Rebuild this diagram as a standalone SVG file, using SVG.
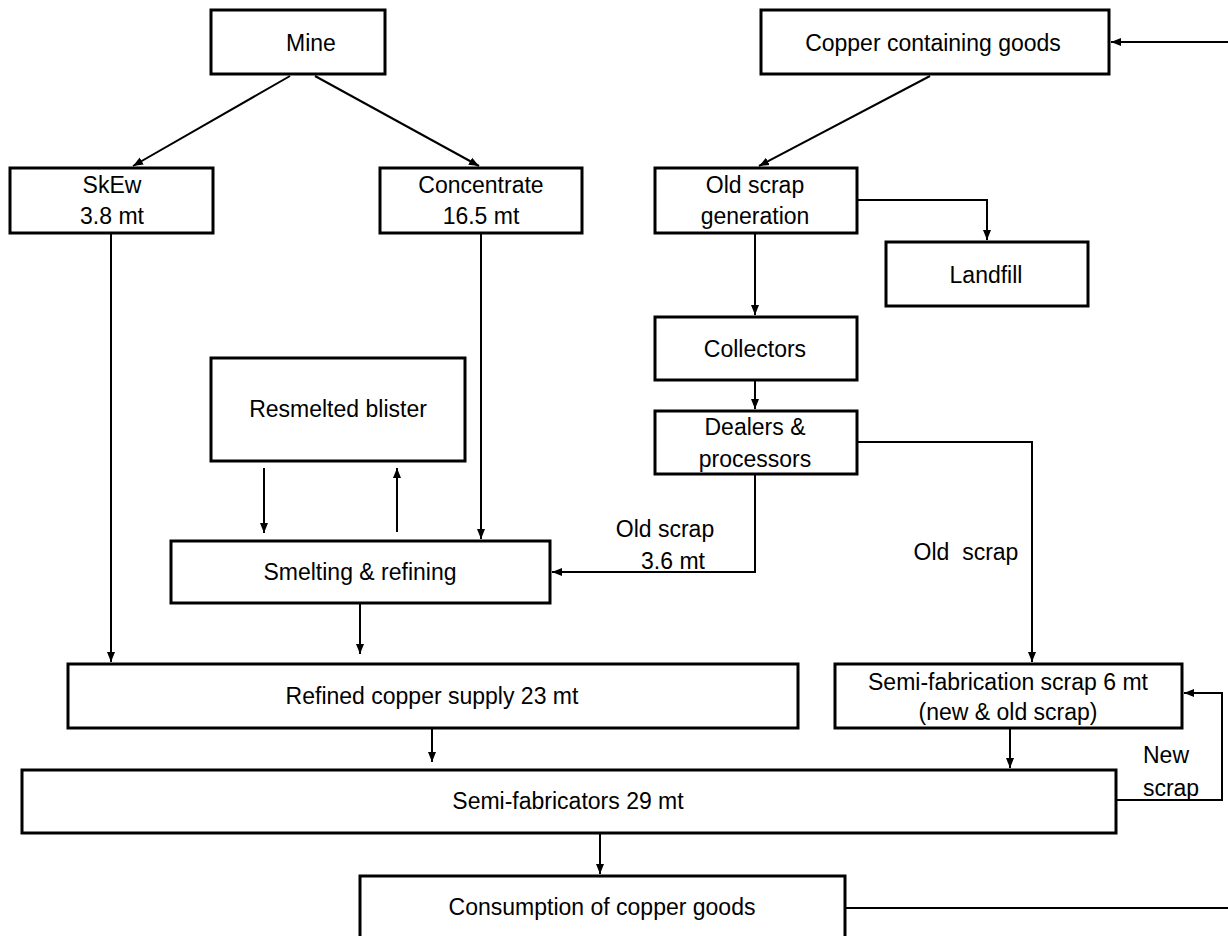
<svg xmlns="http://www.w3.org/2000/svg" width="1228" height="936" viewBox="0 0 1228 936">
<defs>
<marker id="ah" viewBox="0 0 10 10" refX="10" refY="5" markerWidth="10" markerHeight="10" markerUnits="userSpaceOnUse" orient="auto">
<path d="M0,1 L10,5 L0,9 Z" fill="#000"/>
</marker>
</defs>
<style>
.box{fill:#fff;stroke:#000;stroke-width:3}
.t{font-family:"Liberation Sans",Arial,sans-serif;font-size:23px;fill:#000;text-anchor:middle}
.c{fill:none;stroke:#000;stroke-width:2;marker-end:url(#ah)}
.n{fill:none;stroke:#000;stroke-width:2}
</style>
<rect width="1228" height="936" fill="#fff"/>
<g id="connectors">
<line class="c" x1="290" y1="76" x2="133" y2="166"/>
<line class="c" x1="315" y1="76" x2="479" y2="166"/>
<line class="c" x1="930" y1="76" x2="759" y2="166"/>
<line class="c" x1="1228" y1="42" x2="1111" y2="42"/>
<polyline class="c" points="857,200 987,200 987,240"/>
<line class="c" x1="755" y1="233" x2="755" y2="315"/>
<line class="c" x1="755" y1="380" x2="755" y2="409"/>
<polyline class="c" points="755,474 755,572 552,572"/>
<polyline class="c" points="857,442 1032,442 1032,662"/>
<line class="c" x1="111" y1="233" x2="111" y2="662"/>
<line class="c" x1="481" y1="233" x2="481" y2="539"/>
<line class="c" x1="264" y1="468" x2="264" y2="533"/>
<line class="c" x1="397" y1="532" x2="397" y2="468"/>
<line class="c" x1="360" y1="603" x2="360" y2="654"/>
<line class="c" x1="432" y1="728" x2="432" y2="762"/>
<line class="c" x1="1010" y1="728" x2="1010" y2="768"/>
<polyline class="c" points="1116,800 1222,800 1222,693 1184,693"/>
<line class="c" x1="600" y1="833" x2="600" y2="874"/>
<line class="n" x1="845" y1="908" x2="1228" y2="908"/>
<text class="t" x="665" y="537">Old scrap</text>
<text class="t" x="673" y="569">3.6 mt</text>
<text class="t" x="966" y="560">Old&#160; scrap</text>
<text class="t" x="1166" y="763">New</text>
<text class="t" x="1171" y="796">scrap</text>
</g>
<g id="mine"><rect class="box" x="211" y="10" width="174" height="64"/><text class="t" x="311" y="51">Mine</text></g>
<g id="goods"><rect class="box" x="761" y="10" width="348" height="64"/><text class="t" x="933" y="51">Copper containing goods</text></g>
<g id="skew"><rect class="box" x="10" y="168" width="203" height="65"/><text class="t" x="112" y="193">SkEw</text><text class="t" x="112" y="224">3.8 mt</text></g>
<g id="concentrate"><rect class="box" x="380" y="168" width="202" height="65"/><text class="t" x="481" y="193">Concentrate</text><text class="t" x="481" y="224">16.5 mt</text></g>
<g id="oldscrap"><rect class="box" x="655" y="168" width="202" height="65"/><text class="t" x="755" y="193">Old scrap</text><text class="t" x="755" y="224">generation</text></g>
<g id="landfill"><rect class="box" x="886" y="242" width="202" height="64"/><text class="t" x="986" y="283">Landfill</text></g>
<g id="collectors"><rect class="box" x="655" y="317" width="202" height="63"/><text class="t" x="755" y="357">Collectors</text></g>
<g id="dealers"><rect class="box" x="655" y="411" width="202" height="63"/><text class="t" x="755" y="435">Dealers &amp;</text><text class="t" x="755" y="467">processors</text></g>
<g id="resmelted"><rect class="box" x="211" y="358" width="254" height="103"/><text class="t" x="338" y="417">Resmelted blister</text></g>
<g id="smelting"><rect class="box" x="171" y="541" width="379" height="62"/><text class="t" x="360" y="580">Smelting &amp; refining</text></g>
<g id="refined"><rect class="box" x="68" y="664" width="730" height="64"/><text class="t" x="432" y="704">Refined copper supply 23 mt</text></g>
<g id="semiscrap"><rect class="box" x="835" y="664" width="347" height="64"/><text class="t" x="1008" y="690">Semi-fabrication scrap 6 mt</text><text class="t" x="1008" y="720">(new &amp; old scrap)</text></g>
<g id="semifab"><rect class="box" x="22" y="770" width="1094" height="63"/><text class="t" x="568" y="809">Semi-fabricators 29 mt</text></g>
<g id="consumption"><rect class="box" x="360" y="876" width="485" height="70"/><text class="t" x="602" y="915">Consumption of copper goods</text></g>
</svg>
